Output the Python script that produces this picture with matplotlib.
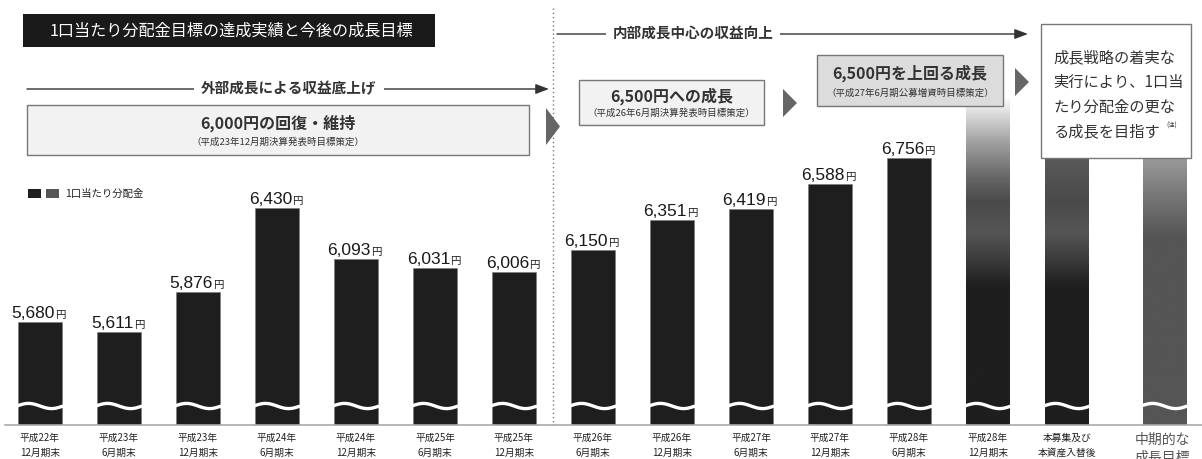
import numpy as np
import matplotlib.pyplot as plt
from matplotlib.patches import Rectangle, Polygon
from matplotlib.colors import LinearSegmentedColormap

plt.rcParams['font.family'] = ['Noto Sans CJK JP', 'DejaVu Sans']

# actual results
periods = ['平成22年\n12月期末', '平成23年\n6月期末', '平成23年\n12月期末', '平成24年\n6月期末',
           '平成24年\n12月期末', '平成25年\n6月期末', '平成25年\n12月期末', '平成26年\n6月期末',
           '平成26年\n12月期末', '平成27年\n6月期末', '平成27年\n12月期末', '平成28年\n6月期末']
dividends = [5680, 5611, 5876, 6430, 6093, 6031, 6006, 6150, 6351, 6419, 6588, 6756]

# forecast / target bars (no numbers, drawn with a fade)
future_periods = ['平成28年\n12月期末', '本募集及び\n本資産入替後', '中期的な\n成長目標']
future_tops = [7160, 7160, 7160]

legend_label = '1口当たり分配金'
title = '1口当たり分配金目標の達成実績と今後の成長目標'
phase1 = '外部成長による収益底上げ'
phase2 = '内部成長中心の収益向上'
goals = [('6,000円の回復・維持', '（平成23年12月期決算発表時目標策定）'),
         ('6,500円への成長', '（平成26年6月期決算発表時目標策定）'),
         ('6,500円を上回る成長', '（平成27年6月期公募増資時目標策定）')]
final_goal = ['成長戦略の着実な', '実行により、1口当', 'たり分配金の更な', 'る成長を目指す']

W, H = 1202, 459
fig = plt.figure(figsize=(W / 100, H / 100), dpi=100)

# bar axes: baseline at pixel 425, 79 px between bars
base = 5000
ppy = 0.152  # pixels per yen
ax = fig.add_axes([0, (H - 425) / H, 1, 425 / H])
ax.axis('off')

bar_w = 0.545
dark = '#1e1e1e'
x_act = np.arange(len(dividends))
x_fut = np.array([12, 13, 14.23])

bars = ax.bar(x_act, np.array(dividends) - base, bottom=base, width=bar_w,
              color=dark, edgecolor='#777', linewidth=0.4, zorder=2)

fades = [
    [(0, '#1e1e1e'), (0.42, '#1e1e1e'), (0.50, '#3a3a3a'), (0.585, '#555555'),
     (0.68, '#4a4a4a'), (0.76, '#6a6a6a'), (0.86, '#a0a0a0'), (1.0, '#ffffff')],
    [(0, '#1e1e1e'), (0.42, '#1e1e1e'), (0.50, '#3a3a3a'), (0.585, '#555555'),
     (0.68, '#4a4a4a'), (0.80, '#585858'), (1.0, '#6a6a6a')],
    [(0, '#555555'), (0.57, '#555555'), (0.70, '#777777'), (0.81, '#999999'),
     (1.0, '#bbbbbb')],
]
fbars = ax.bar(x_fut, np.array(future_tops) - base, bottom=base, width=bar_w,
               color='none', edgecolor='none', zorder=2)
for b, stops in zip(fbars, fades):
    cmap = LinearSegmentedColormap.from_list('fade', stops)
    x0 = b.get_x()
    im = ax.imshow(np.linspace(0, 1, 256).reshape(-1, 1), cmap=cmap, origin='lower',
                   aspect='auto', extent=[x0, x0 + bar_w, base, b.get_y() + b.get_height()],
                   zorder=2)
    im.set_clip_path(b)

# break marks
t = np.linspace(0, 1, 60)
for xc in np.concatenate([x_act, x_fut]):
    ax.plot(xc - bar_w / 2 - 0.02 + (bar_w + 0.04) * t, base + 125 + 17 * np.sin(2 * np.pi * t),
            color='white', lw=2.4, zorder=3, solid_capstyle='butt')

# value labels
for b, v in zip(bars, dividends):
    xc = b.get_x() + bar_w / 2
    ax.annotate(f'{v:,}', (xc, v), xytext=(15, 4), textcoords='offset pixels',
                ha='right', va='baseline', fontsize=12.5, color='#1a1a1a',
                family=['Liberation Sans', 'Noto Sans CJK JP'])
    ax.annotate('円', (xc, v), xytext=(15, 4), textcoords='offset pixels',
                ha='left', va='baseline', fontsize=7.5, color='#1a1a1a')

# category labels
for xc, lab in zip(np.concatenate([x_act, x_fut[:2]]), periods + future_periods[:2]):
    ax.annotate(lab, (xc, 0), xycoords=('data', 'axes fraction'), xytext=(0, -8),
                textcoords='offset pixels', ha='center', va='top', fontsize=7,
                linespacing=1.6, color='#222')
ax.annotate(future_periods[2], (x_fut[2], 0), xycoords=('data', 'axes fraction'),
            xytext=(-2, -8), textcoords='offset pixels', ha='center', va='top',
            fontsize=10, linespacing=1.35, color='#555')

ax.set_xlim(-40 / 79, (W - 40) / 79)
ax.set_ylim(base, base + 425 / ppy)

# overlay in pixel coordinates for the annotation boxes
ov = fig.add_axes([0, 0, 1, 1], zorder=3)
ov.set_xlim(0, W)
ov.set_ylim(H, 0)
ov.axis('off')

ov.plot([5, W], [425, 425], color='#aaaaaa', lw=1.2)
ov.plot([553, 553], [8, 425], color='#777777', lw=1, linestyle=(0, (1, 2)))

# title
ov.add_patch(Rectangle((23, 14), 412, 33, fc='#1a1a1a', ec='none'))
ov.text(50, 31, title, color='white', fontsize=11.6, ha='left', va='center')

# legend
ov.add_patch(Rectangle((28, 189), 13, 9, fc=dark, ec='none'))
ov.add_patch(Rectangle((46, 189), 13, 9, fc='#555555', ec='none'))
ov.text(65, 193.5, legend_label, fontsize=7.5, ha='left', va='center', color='#222')

# phase arrows
arr = dict(arrowstyle='-|>,head_length=0.8,head_width=0.3', color='#333', lw=1,
           shrinkA=0, shrinkB=0)
ov.annotate('', xy=(549, 89), xytext=(27, 89), arrowprops=arr)
ov.text(289, 88, phase1, ha='center', va='center', fontsize=10.5, fontweight='bold',
        color='#333', zorder=5, bbox=dict(fc='white', ec='none', pad=5))
ov.annotate('', xy=(1028, 34), xytext=(557, 34), arrowprops=arr)
ov.text(693, 33, phase2, ha='center', va='center', fontsize=10.5, fontweight='bold',
        color='#333', zorder=5, bbox=dict(fc='white', ec='none', pad=5))

# goal boxes
boxes = [(27, 105, 502, 50, '#f2f2f2'), (579, 80, 185, 45, '#f2f2f2'),
         (817, 55, 186, 51, '#dcdcdc')]
for (bx, by, bw, bh, fc), (head, sub) in zip(boxes, goals):
    ov.add_patch(Rectangle((bx, by), bw, bh, fc=fc, ec='#777', lw=1, zorder=4))
    ov.text(bx + bw / 2, by + bh * 0.36, head, ha='center', va='center', fontsize=11.5,
            fontweight='bold', color='#333', zorder=5)
    ov.text(bx + bw / 2, by + bh * 0.74, sub, ha='center', va='center', fontsize=6.8,
            color='#333', zorder=5)

for tx, ty0, ty1 in [(546, 108, 145), (783, 89, 117), (1015, 68, 96)]:
    ov.add_patch(Polygon([(tx, ty0), (tx + 14, (ty0 + ty1) / 2), (tx, ty1)],
                         fc='#666', ec='none', zorder=5))

ov.add_patch(Rectangle((1041, 24), 150, 134, fc='white', ec='#777', lw=1, zorder=4))
for k, line in enumerate(final_goal):
    ov.text(1053, 58 + 24.5 * k, line, ha='left', va='center', fontsize=11,
            color='#333', zorder=5)
ov.text(1166, 126, '(注)', ha='left', va='center', fontsize=4.5, color='#333', zorder=5)

fig.savefig('out.png', dpi=100)
